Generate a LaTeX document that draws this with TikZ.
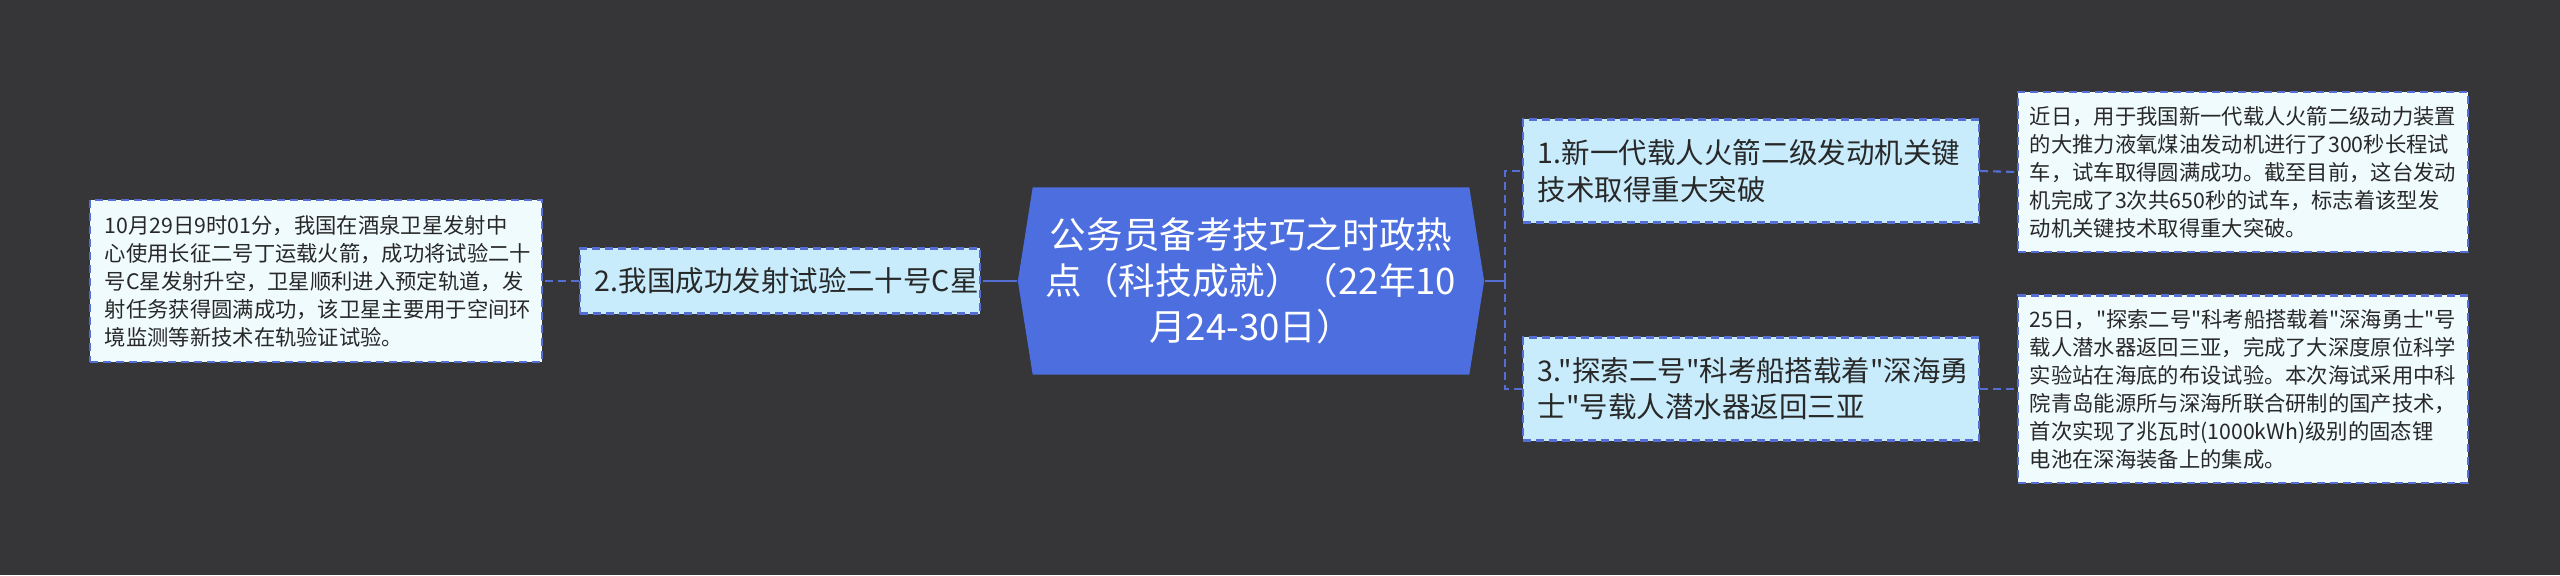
\documentclass[tikz,border=0pt]{standalone}
\usepackage{fontspec}
\newfontfamily\cjk{Noto Sans CJK SC}
\usetikzlibrary{shapes.symbols}
\definecolor{bgdark}{RGB}{54,54,56}
\definecolor{topicblue}{RGB}{76,110,222}
\definecolor{nodefill}{RGB}{200,236,252}
\definecolor{notefill}{RGB}{240,251,254}
\definecolor{linkblue}{RGB}{84,110,212}
\definecolor{textdark}{RGB}{40,40,40}

\begin{document}
\begin{tikzpicture}[x=0.01cm, y=-0.01cm,
  topic/.style={shape=signal, signal to=west and east, signal pointer angle=162, fill=topicblue, text=white, font=\cjk\fontsize{10.4}{13.1}\selectfont, align=center, minimum width=4.66cm, minimum height=1.87cm, inner sep=0pt},
  sub/.style={draw=linkblue, dash pattern=on 0.08cm off 0.05cm, line width=0.6pt, fill=nodefill, text=textdark, font=\cjk\fontsize{8.1}{10.3}\selectfont, align=left, inner xsep=0.15cm, inner ysep=0pt, text width=4.26cm},
  note/.style={sub, fill=notefill, font=\cjk\fontsize{6.06}{7.97}\selectfont, inner xsep=0.12cm},
  link/.style={linkblue, line width=0.6pt},
  dlink/.style={link, dash pattern=on 0.08cm off 0.05cm}]
	\fill[bgdark] (0,0) rectangle (2560,575);
	\node[topic] (topic) at (1251,281) {公务员备考技巧之时政热\\点（科技成就）（22年10\\月24-30日）};
	\node[sub, minimum height=0.65cm, text width=3.70cm] (t2) at (780,281) {2.我国成功发射试验二十号C星};
	\node[note, minimum height=1.62cm, text width=4.22cm, inner xsep=0.15cm] (d2) at (316,281) {10月29日9时01分，我国在酒泉卫星发射中\\心使用长征二号丁运载火箭，成功将试验二十\\号C星发射升空，卫星顺利进入预定轨道，发\\射任务获得圆满成功，该卫星主要用于空间环\\境监测等新技术在轨验证试验。};
	\node[sub, minimum height=1.03cm] (t1) at (1751,171) {1.新一代载人火箭二级发动机关键\\技术取得重大突破};
	\node[sub, minimum height=1.03cm] (t3) at (1751,389) {3."探索二号"科考船搭载着"深海勇\\士"号载人潜水器返回三亚};
	\node[note, minimum height=1.60cm] (d1) at (2243,172) {近日，用于我国新一代载人火箭二级动力装置\\的大推力液氧煤油发动机进行了300秒长程试\\车，试车取得圆满成功。截至目前，这台发动\\机完成了3次共650秒的试车，标志着该型发\\动机关键技术取得重大突破。};
	\node[note, minimum height=1.87cm] (d3) at (2243,389) {25日，"探索二号"科考船搭载着"深海勇士"号\\载人潜水器返回三亚，完成了大深度原位科学\\实验站在海底的布设试验。本次海试采用中科\\院青岛能源所与深海所联合研制的国产技术，\\首次实现了兆瓦时(1000kWh)级别的固态锂\\电池在深海装备上的集成。};
	% left branch
	\draw[link] (topic.west) -- ++(-26,0) coordinate (lstub);
	\draw[dlink] (lstub) -- (t2.east);
	\draw[dlink] (t2.west) -- (d2.east);
	% right branches
	\draw[link] (topic.east) -- ++(20,0) coordinate (rfork);
	\draw[dlink] (rfork) |- (t1.west);
	\draw[dlink] (rfork) |- (t3.west);
	\draw[dlink] (t1.east) -- (d1.west);
	\draw[dlink] (t3.east) -- (d3.west);
\end{tikzpicture}
\end{document}
